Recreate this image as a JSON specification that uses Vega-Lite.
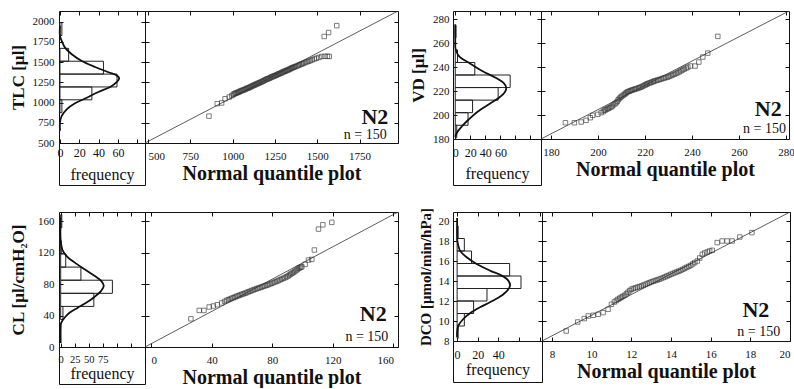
{
"$schema": "https://vega.github.io/schema/vega-lite/v6.json",
"background": "white",
"padding": {"left": 8, "top": 10, "right": 0, "bottom": 0},
"config": {
  "font": "Liberation Serif",
  "view": {"stroke": "#111", "strokeWidth": 1},
  "axis": {"domain": false, "grid": false, "ticks": true, "tickColor": "#111", "tickSize": -4, "labelFont": "Liberation Serif", "labelFontSize": 11, "labelColor": "#111", "titleFont": "Liberation Serif", "titleColor": "#111", "labelFlush": false, "labelOverlap": false}
},
"datasets": {
  "h1": [{"lo":875,"hi":1034,"n":2},{"lo":1034,"hi":1193,"n":33},{"lo":1193,"hi":1352,"n":59},{"lo":1352,"hi":1511,"n":45},{"lo":1511,"hi":1670,"n":9},{"lo":1829,"hi":1988,"n":2}],
  "c1": [{"c":0,"v":650},{"c":0,"v":751},{"c":1.8,"v":834},{"c":7,"v":917},{"c":15.6,"v":991},{"c":27.8,"v":1060},{"c":39.8,"v":1131},{"c":52,"v":1193},{"c":58.9,"v":1255},{"c":61.3,"v":1300},{"c":58.9,"v":1335},{"c":50.2,"v":1375},{"c":36.4,"v":1440},{"c":22.6,"v":1514},{"c":12.2,"v":1597},{"c":5.2,"v":1679},{"c":1.8,"v":1762},{"c":0,"v":1824},{"c":0,"v":1950}],
  "h2": [{"lo":181,"hi":191.5,"n":2},{"lo":191.5,"hi":202,"n":17},{"lo":202,"hi":212.5,"n":23},{"lo":212.5,"hi":223,"n":57},{"lo":223,"hi":233.5,"n":73},{"lo":233.5,"hi":244,"n":26},{"lo":244,"hi":254.5,"n":3},{"lo":264.5,"hi":275,"n":1}],
  "c2": [{"c":0,"v":181.9},{"c":2.7,"v":185.8},{"c":9.3,"v":190.9},{"c":18.2,"v":196.5},{"c":29.3,"v":202.6},{"c":44.8,"v":209},{"c":58.1,"v":214.5},{"c":66.1,"v":219.3},{"c":67.8,"v":222.9},{"c":64.8,"v":226.5},{"c":53.7,"v":231.2},{"c":35.9,"v":236.8},{"c":18.2,"v":243.7},{"c":4.9,"v":249.3},{"c":0.5,"v":254.9},{"c":0,"v":263.3},{"c":0,"v":276}],
  "h3": [{"lo":35,"hi":51.7,"n":4},{"lo":51.7,"hi":68.4,"n":59},{"lo":68.4,"hi":85.1,"n":92},{"lo":85.1,"hi":101.8,"n":36},{"lo":101.8,"hi":118.5,"n":9},{"lo":118.5,"hi":135.2,"n":1},{"lo":151.9,"hi":168.6,"n":2}],
  "c3": [{"c":0,"v":5},{"c":0,"v":24.4},{"c":0.9,"v":30.8},{"c":6.8,"v":37.2},{"c":15.7,"v":43.6},{"c":30.4,"v":50.1},{"c":45.3,"v":56.5},{"c":60.1,"v":63.8},{"c":72,"v":71.5},{"c":76.7,"v":77.9},{"c":72,"v":84.3},{"c":60.1,"v":90.7},{"c":42.3,"v":99.2},{"c":24.6,"v":107.8},{"c":12.7,"v":114.2},{"c":3.7,"v":122.8},{"c":0,"v":135.7},{"c":0,"v":165}],
  "h4": [{"lo":8.25,"hi":9.5,"n":1},{"lo":9.5,"hi":10.75,"n":7},{"lo":10.75,"hi":12,"n":16},{"lo":12,"hi":13.25,"n":29},{"lo":13.25,"hi":14.5,"n":62},{"lo":14.5,"hi":15.75,"n":51},{"lo":15.75,"hi":17,"n":14},{"lo":17,"hi":18.25,"n":7},{"lo":18.25,"hi":19.5,"n":1}],
  "c4": [{"c":0,"v":8.4},{"c":0,"v":8.87},{"c":1.2,"v":9.54},{"c":6,"v":10.2},{"c":12.5,"v":10.77},{"c":22.2,"v":11.37},{"c":31.9,"v":11.87},{"c":41.7,"v":12.44},{"c":48.7,"v":13.04},{"c":51.4,"v":13.54},{"c":49.7,"v":14.04},{"c":43.3,"v":14.54},{"c":31.9,"v":15.04},{"c":19,"v":15.7},{"c":9.3,"v":16.37},{"c":2.8,"v":17.04},{"c":0.2,"v":18.04},{"c":0,"v":18.7},{"c":0,"v":20.3}],
  "l1": [{"x":482,"y":500},{"x":1977,"y":2132}],
  "l2": [{"x":175.7,"y":180},{"x":281.3,"y":287}],
  "l3": [{"x":-4,"y":0},{"x":163,"y":172}],
  "l4": [{"x":7.5,"y":8},{"x":20,"y":20.9}],
  "q1": [{"x":860,"y":832},{"x":909,"y":986},{"x":935,"y":995},{"x":955,"y":1047},{"x":980,"y":1068},{"x":995,"y":1085},{"x":1004,"y":1100},{"x":1010,"y":1108},{"x":1016,"y":1114},{"x":1022,"y":1118},{"x":1028,"y":1124},{"x":1034,"y":1128},{"x":1040,"y":1134},{"x":1046,"y":1142},{"x":1052,"y":1148},{"x":1058,"y":1150},{"x":1064,"y":1156},{"x":1070,"y":1160},{"x":1076,"y":1166},{"x":1082,"y":1174},{"x":1088,"y":1178},{"x":1094,"y":1182},{"x":1100,"y":1188},{"x":1106,"y":1194},{"x":1112,"y":1200},{"x":1118,"y":1208},{"x":1124,"y":1212},{"x":1130,"y":1218},{"x":1136,"y":1224},{"x":1142,"y":1230},{"x":1148,"y":1236},{"x":1154,"y":1240},{"x":1160,"y":1246},{"x":1166,"y":1252},{"x":1172,"y":1258},{"x":1178,"y":1264},{"x":1184,"y":1270},{"x":1190,"y":1278},{"x":1196,"y":1284},{"x":1202,"y":1290},{"x":1208,"y":1294},{"x":1214,"y":1298},{"x":1220,"y":1304},{"x":1226,"y":1312},{"x":1232,"y":1318},{"x":1238,"y":1322},{"x":1244,"y":1328},{"x":1250,"y":1332},{"x":1256,"y":1338},{"x":1262,"y":1344},{"x":1268,"y":1350},{"x":1274,"y":1356},{"x":1280,"y":1360},{"x":1286,"y":1366},{"x":1292,"y":1372},{"x":1298,"y":1378},{"x":1304,"y":1384},{"x":1310,"y":1388},{"x":1316,"y":1394},{"x":1322,"y":1400},{"x":1328,"y":1404},{"x":1334,"y":1410},{"x":1340,"y":1416},{"x":1346,"y":1424},{"x":1352,"y":1430},{"x":1358,"y":1434},{"x":1364,"y":1440},{"x":1372,"y":1446},{"x":1380,"y":1452},{"x":1388,"y":1460},{"x":1396,"y":1466},{"x":1404,"y":1474},{"x":1412,"y":1480},{"x":1420,"y":1488},{"x":1430,"y":1496},{"x":1440,"y":1504},{"x":1450,"y":1512},{"x":1460,"y":1520},{"x":1470,"y":1528},{"x":1482,"y":1538},{"x":1495,"y":1548},{"x":1510,"y":1558},{"x":1526,"y":1570},{"x":1545,"y":1572},{"x":1560,"y":1572},{"x":1571,"y":1570},{"x":1541,"y":1817},{"x":1567,"y":1866},{"x":1615,"y":1951}],
  "q2": [{"x":186.1,"y":193.6},{"x":189.9,"y":193.6},{"x":192.8,"y":194.2},{"x":194.9,"y":195.6},{"x":196.7,"y":197.8},{"x":197.7,"y":199.8},{"x":199.9,"y":200.6},{"x":201.3,"y":202},{"x":202.2,"y":203},{"x":202.7,"y":204},{"x":203.2,"y":204.4},{"x":203.8,"y":205},{"x":204.3,"y":205.6},{"x":204.9,"y":206.1},{"x":205.5,"y":206.7},{"x":206,"y":207.5},{"x":206.6,"y":208.6},{"x":207.2,"y":209.5},{"x":207.7,"y":210.3},{"x":208.2,"y":211.5},{"x":208.6,"y":212.8},{"x":209.1,"y":214},{"x":209.6,"y":214.9},{"x":210.1,"y":215.7},{"x":210.7,"y":216.6},{"x":211.2,"y":217.3},{"x":211.7,"y":218.1},{"x":212.1,"y":218.8},{"x":212.6,"y":219.5},{"x":213.2,"y":219.9},{"x":213.7,"y":220.3},{"x":214.3,"y":220.8},{"x":214.8,"y":221.1},{"x":215.4,"y":221.5},{"x":216,"y":221.9},{"x":216.6,"y":222.2},{"x":217.2,"y":222.7},{"x":217.8,"y":223.1},{"x":218.3,"y":223.4},{"x":218.9,"y":224},{"x":219.5,"y":224.6},{"x":220.1,"y":225.2},{"x":220.6,"y":225.7},{"x":221.1,"y":226.2},{"x":221.7,"y":226.7},{"x":222.3,"y":227.1},{"x":222.9,"y":227.6},{"x":223.5,"y":228},{"x":224,"y":228.5},{"x":224.7,"y":228.9},{"x":225.4,"y":229.3},{"x":226.1,"y":229.7},{"x":226.8,"y":230.1},{"x":227.5,"y":230.6},{"x":228.2,"y":231},{"x":228.9,"y":231.4},{"x":229.7,"y":231.8},{"x":230.4,"y":232.4},{"x":231.1,"y":233},{"x":231.8,"y":233.6},{"x":232.5,"y":234.2},{"x":233.2,"y":234.8},{"x":233.9,"y":235.4},{"x":234.6,"y":236.2},{"x":235.3,"y":237},{"x":236,"y":237.8},{"x":236.7,"y":238.5},{"x":237.5,"y":239.3},{"x":238.2,"y":240.1},{"x":239.3,"y":241},{"x":241.3,"y":241},{"x":242.9,"y":244.3},{"x":244.6,"y":248.5},{"x":246.7,"y":251.8},{"x":251,"y":265.8}],
  "q3": [{"x":26.3,"y":35.9},{"x":31.8,"y":46.6},{"x":34.9,"y":46.6},{"x":38.4,"y":51},{"x":41.1,"y":52.2},{"x":43.7,"y":53.9},{"x":46.6,"y":56.1},{"x":48.5,"y":58},{"x":49.9,"y":59.4},{"x":51,"y":60.2},{"x":52.1,"y":61.1},{"x":53.2,"y":62},{"x":54.3,"y":62.8},{"x":55.4,"y":63.7},{"x":56.5,"y":64.6},{"x":57.6,"y":65.4},{"x":58.7,"y":66.2},{"x":59.8,"y":67},{"x":60.9,"y":67.7},{"x":62,"y":68.5},{"x":63.1,"y":69.3},{"x":64.2,"y":70.2},{"x":65.3,"y":71},{"x":66.4,"y":71.9},{"x":67.5,"y":72.7},{"x":68.6,"y":73.5},{"x":69.8,"y":74.4},{"x":70.9,"y":75.1},{"x":72,"y":75.8},{"x":73.1,"y":76.5},{"x":74.2,"y":77.3},{"x":75.3,"y":78},{"x":76.4,"y":78.7},{"x":77.5,"y":79.5},{"x":78.6,"y":80.4},{"x":79.7,"y":81.2},{"x":80.8,"y":82.1},{"x":81.9,"y":82.9},{"x":83,"y":83.8},{"x":84.1,"y":84.7},{"x":85.2,"y":85.7},{"x":86.3,"y":86.6},{"x":87.4,"y":87.6},{"x":88.5,"y":88.5},{"x":89.6,"y":89.5},{"x":90.5,"y":90.6},{"x":91.4,"y":91.8},{"x":92.2,"y":93},{"x":93.1,"y":94.1},{"x":94,"y":95},{"x":94.8,"y":96.3},{"x":95.7,"y":97.5},{"x":96.5,"y":98.8},{"x":97.3,"y":100.1},{"x":98.1,"y":100.8},{"x":98.8,"y":101.6},{"x":99.5,"y":102.3},{"x":101.7,"y":105.3},{"x":103.9,"y":110.8},{"x":106.1,"y":111.6},{"x":107.8,"y":123.6},{"x":110.5,"y":150.2},{"x":113.4,"y":155.7},{"x":119.3,"y":158.8}],
  "q4": [{"x":8.72,"y":9},{"x":9.3,"y":9.9},{"x":9.63,"y":10.24},{"x":9.83,"y":10.5},{"x":10.08,"y":10.57},{"x":10.33,"y":10.67},{"x":10.58,"y":10.84},{"x":10.83,"y":11.17},{"x":11,"y":11.67},{"x":11.15,"y":11.9},{"x":11.25,"y":12.05},{"x":11.33,"y":12.17},{"x":11.42,"y":12.28},{"x":11.5,"y":12.38},{"x":11.58,"y":12.47},{"x":11.67,"y":12.57},{"x":11.75,"y":12.72},{"x":11.83,"y":12.87},{"x":11.92,"y":13.02},{"x":12,"y":13.17},{"x":12.1,"y":13.24},{"x":12.2,"y":13.3},{"x":12.3,"y":13.37},{"x":12.4,"y":13.43},{"x":12.5,"y":13.5},{"x":12.6,"y":13.58},{"x":12.7,"y":13.66},{"x":12.8,"y":13.74},{"x":12.9,"y":13.82},{"x":13,"y":13.9},{"x":13.1,"y":13.97},{"x":13.2,"y":14.04},{"x":13.3,"y":14.1},{"x":13.4,"y":14.17},{"x":13.5,"y":14.24},{"x":13.6,"y":14.33},{"x":13.7,"y":14.41},{"x":13.8,"y":14.5},{"x":13.9,"y":14.58},{"x":14,"y":14.67},{"x":14.1,"y":14.75},{"x":14.2,"y":14.83},{"x":14.3,"y":14.91},{"x":14.4,"y":14.99},{"x":14.5,"y":15.07},{"x":14.6,"y":15.17},{"x":14.7,"y":15.27},{"x":14.8,"y":15.37},{"x":14.9,"y":15.47},{"x":15,"y":15.57},{"x":15.1,"y":15.71},{"x":15.2,"y":15.85},{"x":15.33,"y":16},{"x":15.45,"y":16.3},{"x":15.58,"y":16.67},{"x":15.7,"y":16.8},{"x":15.83,"y":16.9},{"x":15.95,"y":17},{"x":16.08,"y":17.07},{"x":16.33,"y":17.84},{"x":16.58,"y":18},{"x":16.83,"y":18},{"x":17.08,"y":18},{"x":17.47,"y":18.4},{"x":18.08,"y":18.84}]
},
"spacing": 20,
"vconcat": [
 {"spacing": 10, "hconcat": [
  {"columns": 2, "spacing": 0, "bounds": "flush", "align": "each", "concat": [
    {"width": 86, "height": 132, "resolve": {"axis": {"x": "independent", "y": "independent"}}, "layer": [
     {"data": {"name": "h1"}, "mark": {"type": "rect", "fill": "white", "fillOpacity": 0, "stroke": "#222", "strokeWidth": 1},
      "encoding": {
       "x": {"field": "n", "type": "quantitative", "scale": {"domain": [-1, 88], "nice": false, "zero": false}, "axis": {"orient": "bottom", "labels": false, "title": null, "values": [0,20,40,60,80]}},
       "x2": {"datum": 0},
       "y": {"field": "lo", "type": "quantitative", "scale": {"domain": [500, 2132], "nice": false, "zero": false}, "axis": {"orient": "left", "values": [500,750,1000,1250,1500,1750,2000], "format": "d", "labelPadding": 9, "title": "TLC [µl]", "titleFontSize": 17, "titleFontWeight": "bold", "titlePadding": 5}},
       "y2": {"field": "hi"}}},
     {"data": {"name": "c1"}, "mark": {"type": "line", "color": "#111", "strokeWidth": 1.8, "interpolate": "catmull-rom"},
      "encoding": {
       "x": {"field": "c", "type": "quantitative", "scale": {"domain": [-1, 88], "nice": false, "zero": false}, "axis": {"orient": "top", "labels": false, "title": null, "values": [0,20,40,60,80]}},
       "y": {"field": "v", "type": "quantitative", "scale": {"domain": [500, 2132], "nice": false, "zero": false}, "axis": {"orient": "right", "labels": false, "title": null, "values": [500,750,1000,1250,1500,1750,2000]}},
       "order": {"field": "v", "type": "quantitative"}}}
    ]},
    {"width": 253, "height": 132, "resolve": {"axis": {"x": "independent", "y": "independent"}}, "layer": [
     {"data": {"name": "l1"}, "mark": {"type": "line", "color": "#333", "strokeWidth": 0.8, "clip": true},
      "encoding": {
       "x": {"field": "x", "type": "quantitative", "scale": {"domain": [482, 1977], "nice": false, "zero": false}, "axis": {"orient": "top", "labels": false, "title": null, "values": [500,750,1000,1250,1500,1750]}},
       "y": {"field": "y", "type": "quantitative", "scale": {"domain": [500, 2132], "nice": false, "zero": false}, "axis": {"orient": "right", "labels": false, "title": null, "values": [500,750,1000,1250,1500,1750,2000]}}}},
     {"data": {"name": "q1"}, "mark": {"type": "point", "shape": "square", "filled": false, "color": "#333", "size": 20, "strokeWidth": 0.9},
      "encoding": {
       "x": {"field": "x", "type": "quantitative", "scale": {"domain": [482, 1977], "nice": false, "zero": false}, "axis": {"orient": "bottom", "values": [500,750,1000,1250,1500,1750], "format": "d", "labelFlush": 5, "labelPadding": 11, "title": "Normal quantile plot", "titleFontSize": 20, "titleFontWeight": "bold", "titlePadding": 2}},
       "y": {"field": "y", "type": "quantitative", "scale": {"domain": [500, 2132], "nice": false, "zero": false}, "axis": {"orient": "left", "labels": false, "title": null, "values": [500,750,1000,1250,1500,1750,2000]}}}},
     {"data": {"values": [{}]}, "mark": {"type": "text", "text": "N2", "font": "Liberation Serif", "fontSize": 22, "fontWeight": "bold", "align": "right", "baseline": "alphabetic", "color": "#111"},
      "encoding": {"x": {"datum": 1920, "type": "quantitative", "scale": {"domain": [482, 1977], "nice": false, "zero": false}, "axis": null}, "y": {"datum": 739, "type": "quantitative", "scale": {"domain": [500, 2132], "nice": false, "zero": false}, "axis": null}}},
     {"data": {"values": [{}]}, "mark": {"type": "text", "text": "n = 150", "font": "Liberation Serif", "fontSize": 14, "align": "right", "baseline": "alphabetic", "color": "#111"},
      "encoding": {"x": {"datum": 1910, "type": "quantitative", "scale": {"domain": [482, 1977], "nice": false, "zero": false}, "axis": null}, "y": {"datum": 546, "type": "quantitative", "scale": {"domain": [500, 2132], "nice": false, "zero": false}, "axis": null}}}
    ]},
    {"width": 86, "height": 42, "data": {"name": "h1"}, "mark": {"type": "point", "opacity": 0},
     "encoding": {"x": {"field": "n", "type": "quantitative", "scale": {"domain": [-1, 88], "nice": false, "zero": false}, "axis": {"orient": "bottom", "offset": -42, "ticks": false, "tickSize": 0, "values": [0,20,40,60], "labelFontSize": 12, "labelPadding": 4.5, "title": "frequency", "titleFontSize": 16, "titleFontWeight": "normal", "titlePadding": 7.5}}}}
  ]},
  {"columns": 2, "spacing": 0, "bounds": "flush", "align": "each", "concat": [
    {"width": 88, "height": 128, "resolve": {"axis": {"x": "independent", "y": "independent"}}, "layer": [
     {"data": {"name": "h2"}, "mark": {"type": "rect", "fill": "white", "fillOpacity": 0, "stroke": "#222", "strokeWidth": 1},
      "encoding": {
       "x": {"field": "n", "type": "quantitative", "scale": {"domain": [-3, 114], "nice": false, "zero": false}, "axis": {"orient": "bottom", "labels": false, "title": null, "values": [0,20,40,60,80,100]}},
       "x2": {"datum": 0},
       "y": {"field": "lo", "type": "quantitative", "scale": {"domain": [180, 287], "nice": false, "zero": false}, "axis": {"orient": "left", "values": [180,200,220,240,260,280], "labelPadding": 8, "title": "VD [µl]", "titleFontSize": 17, "titleFontWeight": "bold", "titlePadding": 5}},
       "y2": {"field": "hi"}}},
     {"data": {"name": "c2"}, "mark": {"type": "line", "color": "#111", "strokeWidth": 1.8, "interpolate": "catmull-rom"},
      "encoding": {
       "x": {"field": "c", "type": "quantitative", "scale": {"domain": [-3, 114], "nice": false, "zero": false}, "axis": {"orient": "top", "labels": false, "title": null, "values": [0,20,40,60,80,100]}},
       "y": {"field": "v", "type": "quantitative", "scale": {"domain": [180, 287], "nice": false, "zero": false}, "axis": {"orient": "right", "labels": false, "title": null, "values": [180,200,220,240,260,280]}},
       "order": {"field": "v", "type": "quantitative"}}}
    ]},
    {"width": 248, "height": 128, "resolve": {"axis": {"x": "independent", "y": "independent"}}, "layer": [
     {"data": {"name": "l2"}, "mark": {"type": "line", "color": "#333", "strokeWidth": 0.8, "clip": true},
      "encoding": {
       "x": {"field": "x", "type": "quantitative", "scale": {"domain": [175.7, 281.3], "nice": false, "zero": false}, "axis": {"orient": "top", "labels": false, "title": null, "values": [180,200,220,240,260,280]}},
       "y": {"field": "y", "type": "quantitative", "scale": {"domain": [180, 287], "nice": false, "zero": false}, "axis": {"orient": "right", "labels": false, "title": null, "values": [180,200,220,240,260,280]}}}},
     {"data": {"name": "q2"}, "mark": {"type": "point", "shape": "square", "filled": false, "color": "#333", "size": 20, "strokeWidth": 0.9},
      "encoding": {
       "x": {"field": "x", "type": "quantitative", "scale": {"domain": [175.7, 281.3], "nice": false, "zero": false}, "axis": {"orient": "bottom", "values": [180,200,220,240,260,280], "labelPadding": 11, "title": "Normal quantile plot", "titleFontSize": 20, "titleFontWeight": "bold", "titlePadding": 2}},
       "y": {"field": "y", "type": "quantitative", "scale": {"domain": [180, 287], "nice": false, "zero": false}, "axis": {"orient": "left", "labels": false, "title": null, "values": [180,200,220,240,260,280]}}}},
     {"data": {"values": [{}]}, "mark": {"type": "text", "text": "N2", "font": "Liberation Serif", "fontSize": 22, "fontWeight": "bold", "align": "right", "baseline": "alphabetic", "color": "#111"},
      "encoding": {"x": {"datum": 278.2, "type": "quantitative", "scale": {"domain": [175.7, 281.3], "nice": false, "zero": false}, "axis": null}, "y": {"datum": 199.2, "type": "quantitative", "scale": {"domain": [180, 287], "nice": false, "zero": false}, "axis": null}}},
     {"data": {"values": [{}]}, "mark": {"type": "text", "text": "n = 150", "font": "Liberation Serif", "fontSize": 14, "align": "right", "baseline": "alphabetic", "color": "#111"},
      "encoding": {"x": {"datum": 280, "type": "quantitative", "scale": {"domain": [175.7, 281.3], "nice": false, "zero": false}, "axis": null}, "y": {"datum": 185.3, "type": "quantitative", "scale": {"domain": [180, 287], "nice": false, "zero": false}, "axis": null}}}
    ]},
    {"width": 88, "height": 46, "data": {"name": "h2"}, "mark": {"type": "point", "opacity": 0},
     "encoding": {"x": {"field": "n", "type": "quantitative", "scale": {"domain": [-3, 114], "nice": false, "zero": false}, "axis": {"orient": "bottom", "offset": -46, "ticks": false, "tickSize": 0, "values": [0,20,40,60], "labelFontSize": 12, "labelPadding": 8.5, "title": "frequency", "titleFontSize": 16, "titleFontWeight": "normal", "titlePadding": 6.5}}}}
  ]}
 ]},
 {"spacing": 18, "hconcat": [
  {"columns": 2, "spacing": 0, "bounds": "flush", "align": "each", "concat": [
    {"width": 86, "height": 135, "resolve": {"axis": {"x": "independent", "y": "independent"}}, "layer": [
     {"data": {"name": "h3"}, "mark": {"type": "rect", "fill": "white", "fillOpacity": 0, "stroke": "#222", "strokeWidth": 1},
      "encoding": {
       "x": {"field": "n", "type": "quantitative", "scale": {"domain": [-3, 150], "nice": false, "zero": false}, "axis": {"orient": "bottom", "labels": false, "title": null, "values": [0,25,50,75,100,125]}},
       "x2": {"datum": 0},
       "y": {"field": "lo", "type": "quantitative", "scale": {"domain": [0, 172], "nice": false, "zero": false}, "axis": {"orient": "left", "values": [0,40,80,120,160], "labelPadding": 9, "title": "CL [µl/cmH₂O]", "titleFontSize": 17, "titleFontWeight": "bold", "titlePadding": 10.5}},
       "y2": {"field": "hi"}}},
     {"data": {"name": "c3"}, "mark": {"type": "line", "color": "#111", "strokeWidth": 1.8, "interpolate": "catmull-rom"},
      "encoding": {
       "x": {"field": "c", "type": "quantitative", "scale": {"domain": [-3, 150], "nice": false, "zero": false}, "axis": {"orient": "top", "labels": false, "title": null, "values": [0,25,50,75,100,125]}},
       "y": {"field": "v", "type": "quantitative", "scale": {"domain": [0, 172], "nice": false, "zero": false}, "axis": {"orient": "right", "labels": false, "title": null, "values": [0,40,80,120,160]}},
       "order": {"field": "v", "type": "quantitative"}}}
    ]},
    {"width": 253, "height": 135, "resolve": {"axis": {"x": "independent", "y": "independent"}}, "layer": [
     {"data": {"name": "l3"}, "mark": {"type": "line", "color": "#333", "strokeWidth": 0.8, "clip": true},
      "encoding": {
       "x": {"field": "x", "type": "quantitative", "scale": {"domain": [-4, 163], "nice": false, "zero": false}, "axis": {"orient": "top", "labels": false, "title": null, "values": [0,40,80,120,160]}},
       "y": {"field": "y", "type": "quantitative", "scale": {"domain": [0, 172], "nice": false, "zero": false}, "axis": {"orient": "right", "labels": false, "title": null, "values": [0,40,80,120,160]}}}},
     {"data": {"name": "q3"}, "mark": {"type": "point", "shape": "square", "filled": false, "color": "#333", "size": 20, "strokeWidth": 0.9},
      "encoding": {
       "x": {"field": "x", "type": "quantitative", "scale": {"domain": [-4, 163], "nice": false, "zero": false}, "axis": {"orient": "bottom", "values": [0,40,80,120,160], "labelFlush": 7, "labelPadding": 11, "title": "Normal quantile plot", "titleFontSize": 20, "titleFontWeight": "bold", "titlePadding": 2}},
       "y": {"field": "y", "type": "quantitative", "scale": {"domain": [0, 172], "nice": false, "zero": false}, "axis": {"orient": "left", "labels": false, "title": null, "values": [0,40,80,120,160]}}}},
     {"data": {"values": [{}]}, "mark": {"type": "text", "text": "N2", "font": "Liberation Serif", "fontSize": 22, "fontWeight": "bold", "align": "right", "baseline": "alphabetic", "color": "#111"},
      "encoding": {"x": {"datum": 155.5, "type": "quantitative", "scale": {"domain": [-4, 163], "nice": false, "zero": false}, "axis": null}, "y": {"datum": 33.5, "type": "quantitative", "scale": {"domain": [0, 172], "nice": false, "zero": false}, "axis": null}}},
     {"data": {"values": [{}]}, "mark": {"type": "text", "text": "n = 150", "font": "Liberation Serif", "fontSize": 14, "align": "right", "baseline": "alphabetic", "color": "#111"},
      "encoding": {"x": {"datum": 156.6, "type": "quantitative", "scale": {"domain": [-4, 163], "nice": false, "zero": false}, "axis": null}, "y": {"datum": 8, "type": "quantitative", "scale": {"domain": [0, 172], "nice": false, "zero": false}, "axis": null}}}
    ]},
    {"width": 86, "height": 37, "data": {"name": "h3"}, "mark": {"type": "point", "opacity": 0},
     "encoding": {"x": {"field": "n", "type": "quantitative", "scale": {"domain": [-3, 150], "nice": false, "zero": false}, "axis": {"orient": "bottom", "offset": -37, "ticks": false, "tickSize": 0, "values": [0,25,50,75], "labelFontSize": 10.5, "labelPadding": 7, "title": "frequency", "titleFontSize": 16, "titleFontWeight": "normal", "titlePadding": 1}}}}
  ]},
  {"columns": 2, "spacing": 0, "bounds": "flush", "align": "each", "concat": [
    {"width": 89, "height": 129, "resolve": {"axis": {"x": "independent", "y": "independent"}}, "layer": [
     {"data": {"name": "h4"}, "mark": {"type": "rect", "fill": "white", "fillOpacity": 0, "stroke": "#222", "strokeWidth": 1},
      "encoding": {
       "x": {"field": "n", "type": "quantitative", "scale": {"domain": [-4, 82.4], "nice": false, "zero": false}, "axis": {"orient": "bottom", "labels": false, "title": null, "values": [0,20,40,60,80]}},
       "x2": {"datum": 0},
       "y": {"field": "lo", "type": "quantitative", "scale": {"domain": [8, 20.9], "nice": false, "zero": false}, "axis": {"orient": "left", "values": [8,10,12,14,16,18,20], "labelPadding": 8, "title": "DCO [µmol/min/hPa]", "titleFontSize": 15, "titleFontWeight": "bold", "titlePadding": 5}},
       "y2": {"field": "hi"}}},
     {"data": {"name": "c4"}, "mark": {"type": "line", "color": "#111", "strokeWidth": 1.8, "interpolate": "catmull-rom"},
      "encoding": {
       "x": {"field": "c", "type": "quantitative", "scale": {"domain": [-4, 82.4], "nice": false, "zero": false}, "axis": {"orient": "top", "labels": false, "title": null, "values": [0,20,40,60,80]}},
       "y": {"field": "v", "type": "quantitative", "scale": {"domain": [8, 20.9], "nice": false, "zero": false}, "axis": {"orient": "right", "labels": false, "title": null, "values": [8,10,12,14,16,18,20]}},
       "order": {"field": "v", "type": "quantitative"}}}
    ]},
    {"width": 248, "height": 129, "resolve": {"axis": {"x": "independent", "y": "independent"}}, "layer": [
     {"data": {"name": "l4"}, "mark": {"type": "line", "color": "#333", "strokeWidth": 0.8, "clip": true},
      "encoding": {
       "x": {"field": "x", "type": "quantitative", "scale": {"domain": [7.5, 20], "nice": false, "zero": false}, "axis": {"orient": "top", "labels": false, "title": null, "values": [8,10,12,14,16,18,20]}},
       "y": {"field": "y", "type": "quantitative", "scale": {"domain": [8, 20.9], "nice": false, "zero": false}, "axis": {"orient": "right", "labels": false, "title": null, "values": [8,10,12,14,16,18,20]}}}},
     {"data": {"name": "q4"}, "mark": {"type": "point", "shape": "square", "filled": false, "color": "#333", "size": 20, "strokeWidth": 0.9},
      "encoding": {
       "x": {"field": "x", "type": "quantitative", "scale": {"domain": [7.5, 20], "nice": false, "zero": false}, "axis": {"orient": "bottom", "values": [8,10,12,14,16,18,20], "labelFlush": true, "labelPadding": 11, "title": "Normal quantile plot", "titleFontSize": 20, "titleFontWeight": "bold", "titlePadding": 2}},
       "y": {"field": "y", "type": "quantitative", "scale": {"domain": [8, 20.9], "nice": false, "zero": false}, "axis": {"orient": "left", "labels": false, "title": null, "values": [8,10,12,14,16,18,20]}}}},
     {"data": {"values": [{}]}, "mark": {"type": "text", "text": "N2", "font": "Liberation Serif", "fontSize": 22, "fontWeight": "bold", "align": "right", "baseline": "alphabetic", "color": "#111"},
      "encoding": {"x": {"datum": 18.96, "type": "quantitative", "scale": {"domain": [7.5, 20], "nice": false, "zero": false}, "axis": null}, "y": {"datum": 10.37, "type": "quantitative", "scale": {"domain": [8, 20.9], "nice": false, "zero": false}, "axis": null}}},
     {"data": {"values": [{}]}, "mark": {"type": "text", "text": "n = 150", "font": "Liberation Serif", "fontSize": 14, "align": "right", "baseline": "alphabetic", "color": "#111"},
      "encoding": {"x": {"datum": 19.51, "type": "quantitative", "scale": {"domain": [7.5, 20], "nice": false, "zero": false}, "axis": null}, "y": {"datum": 8.53, "type": "quantitative", "scale": {"domain": [8, 20.9], "nice": false, "zero": false}, "axis": null}}}
    ]},
    {"width": 89, "height": 41, "data": {"name": "h4"}, "mark": {"type": "point", "opacity": 0},
     "encoding": {"x": {"field": "n", "type": "quantitative", "scale": {"domain": [-4, 82.4], "nice": false, "zero": false}, "axis": {"orient": "bottom", "offset": -41, "ticks": false, "tickSize": 0, "values": [0,20,40], "labelFontSize": 12, "labelPadding": 8, "title": "frequency", "titleFontSize": 16, "titleFontWeight": "normal", "titlePadding": 1}}}}
  ]}
 ]}
]
}
